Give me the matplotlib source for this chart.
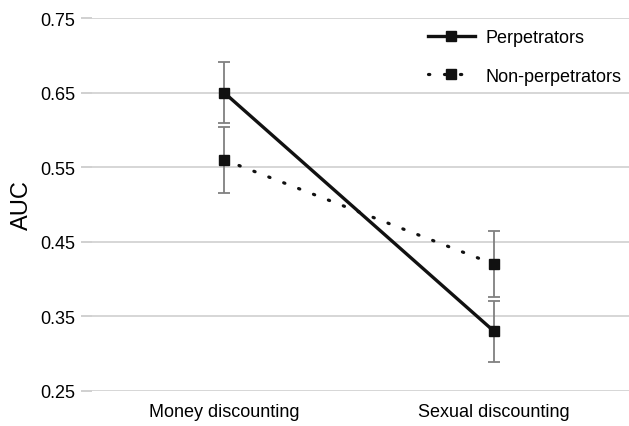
import numpy as np
import matplotlib.pyplot as plt

plt.rcParams['font.family'] = ['Liberation Sans', 'DejaVu Sans']

# data
conditions = ['Money discounting', 'Sexual discounting']
perp_auc = [0.65, 0.33]
perp_err = [0.041, 0.041]
nonperp_auc = [0.56, 0.42]
nonperp_err = [0.044, 0.044]
yticks = [0.25, 0.35, 0.45, 0.55, 0.65, 0.75]

x = np.arange(len(conditions))

fig = plt.figure(figsize=(6.29, 4.27), dpi=100)
ax = fig.add_axes([0.146, 0.082, 0.854, 0.8735])

# error bars first, markers/lines on top
ax.errorbar(x, perp_auc, yerr=perp_err, fmt='none', ecolor='#808080',
            elinewidth=1.3, capsize=4, capthick=1.3, zorder=2)
ax.errorbar(x, nonperp_auc, yerr=nonperp_err, fmt='none', ecolor='#808080',
            elinewidth=1.3, capsize=4, capthick=1.3, zorder=2)

ax.plot(x, perp_auc, color='#111111', lw=2.4, marker='s', ms=6.5,
        label='Perpetrators', zorder=3)
ax.plot(x, nonperp_auc, color='#111111', lw=2.3, ls=(0, (0.4, 4.6)),
        dash_capstyle='round', marker='s', ms=6.5,
        label='Non-perpetrators', zorder=3)

ax.set_xlim(-0.49, 1.5)
ax.set_ylim(0.25, 0.75)
ax.set_yticks(yticks)
ax.set_yticklabels([f'{v:.2f}' for v in yticks])
ax.set_xticks(x)
ax.set_xticklabels(conditions)
ax.set_ylabel('AUC', fontsize=17, labelpad=5)

ax.grid(axis='y', color='#d0d0d0', lw=1.2)
ax.set_axisbelow(True)
for s in ax.spines.values():
    s.set_visible(False)
ax.tick_params(axis='y', length=8, width=1.2, color='#c8c8c8',
               labelsize=13, pad=4)
ax.tick_params(axis='x', length=0, labelsize=13, pad=9)

ax.legend(loc='upper right', frameon=False, fontsize=13, handlelength=2.6,
          labelspacing=1.2, handletextpad=0.6, borderaxespad=0.0,
          bbox_to_anchor=(1.0, 0.99))

fig.savefig('out.png', dpi=100)
